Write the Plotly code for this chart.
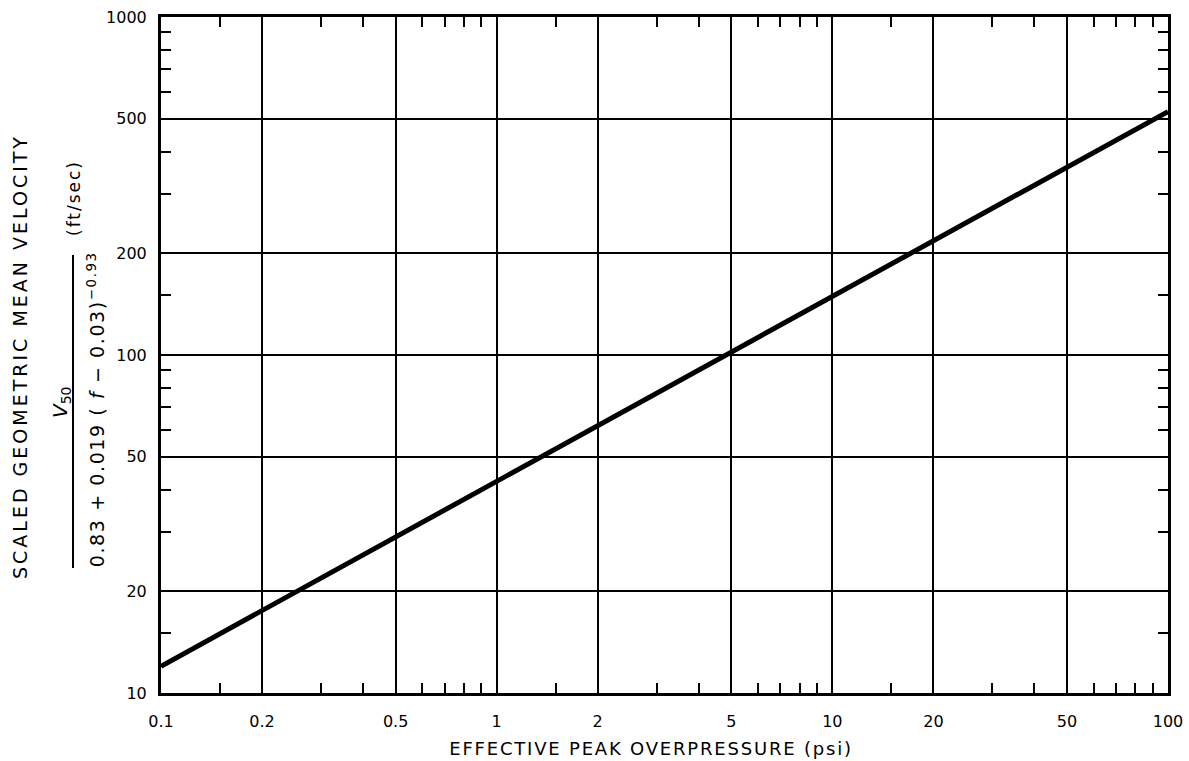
import plotly.graph_objects as go

# Data (straight line on log-log axes)
pressure_psi = [0.1, 100]
scaled_velocity = [12, 525]

x_major = [0.1, 0.2, 0.5, 1, 2, 5, 10, 20, 50, 100]
x_major_labels = ["0.1", "0.2", "0.5", "1", "2", "5", "10", "20", "50", "100"]
x_minor = [0.15, 0.3, 0.4, 0.6, 0.7, 0.8, 0.9,
           1.5, 3, 4, 6, 7, 8, 9,
           15, 30, 40, 60, 70, 80, 90]
y_major = [10, 20, 50, 100, 200, 500, 1000]
y_major_labels = ["10", "20", "50", "100", "200", "500", "1000"]
y_minor = [15, 30, 40, 60, 70, 80, 90, 150, 300, 400, 600, 700, 800, 900]

FONT = "DejaVu Sans"

fig = go.Figure()
fig.add_trace(go.Scatter(
    x=pressure_psi, y=scaled_velocity, mode="lines",
    line=dict(color="black", width=5), showlegend=False, hoverinfo="skip"))

axis_common = dict(
    showline=True, linecolor="black", linewidth=3, mirror="allticks",
    showgrid=True, gridcolor="black", gridwidth=2,
    ticks="", zeroline=False,
    tickfont=dict(family=FONT, size=16, color="black"),
)

fig.update_xaxes(
    type="log", range=[-1, 2], tickvals=x_major, ticktext=x_major_labels,
    ticklabelstandoff=12,
    minor=dict(tickvals=x_minor, ticks="inside", ticklen=10, tickwidth=2,
               tickcolor="black", showgrid=False),
    **axis_common)
fig.update_yaxes(
    type="log", range=[1, 3], tickvals=y_major, ticktext=y_major_labels,
    ticklabelstandoff=8,
    minor=dict(tickvals=y_minor, ticks="inside", ticklen=10, tickwidth=2,
               tickcolor="black", showgrid=False),
    **axis_common)

L, R, T, B = 161, 21, 17, 68
W, H = 1189, 761
pw, ph = W - L - R, H - T - B

def px(xp):
    return (xp - L) / pw

def py(yp):
    return (H - B - yp) / ph

annots = [
    dict(text="SCALED GEOMETRIC MEAN VELOCITY", x=px(20), y=py(357), size=19, angle=-90),
    dict(text="<i>V</i><sub>50</sub>", x=px(61), y=py(402), size=20, angle=-90),
    dict(text="0.83 + 0.019 ( <i>f</i> − 0.03)<sup>−0.93</sup>", x=px(96), y=py(410), size=19, angle=-90),
    dict(text="(ft/sec)", x=px(74), y=py(198), size=17, angle=-90),
    dict(text="EFFECTIVE PEAK OVERPRESSURE (psi)", x=px(651), y=py(748), size=18, angle=0),
]
for a in annots:
    fig.add_annotation(text=a["text"], x=a["x"], y=a["y"], xref="paper", yref="paper",
                       showarrow=False, textangle=a["angle"], xanchor="center", yanchor="middle",
                       font=dict(family=FONT, size=a["size"], color="black"))

# fraction bar
fig.add_shape(type="line", xref="paper", yref="paper",
              x0=px(73), x1=px(73), y0=py(568), y1=py(255),
              line=dict(color="black", width=2))

fig.update_layout(
    width=W, height=H,
    margin=dict(l=L, r=R, t=T, b=B, autoexpand=False),
    paper_bgcolor="white", plot_bgcolor="white",
)

post_js = """
document.body.style.margin = '0';
document.body.style.overflow = 'hidden';
var spacing = {'SCALED': '3px', '0.83': '1.6px', '(ft/sec)': '2px', 'EFFECTIVE': '1.8px'};
document.querySelectorAll('text.annotation-text').forEach(function (t) {
  var s = t.textContent;
  Object.keys(spacing).forEach(function (k) {
    if (s.indexOf(k) === 0) { t.style.letterSpacing = spacing[k]; }
  });
});
"""

fig.write_html("out.html", post_script=post_js, config={"displayModeBar": False})
